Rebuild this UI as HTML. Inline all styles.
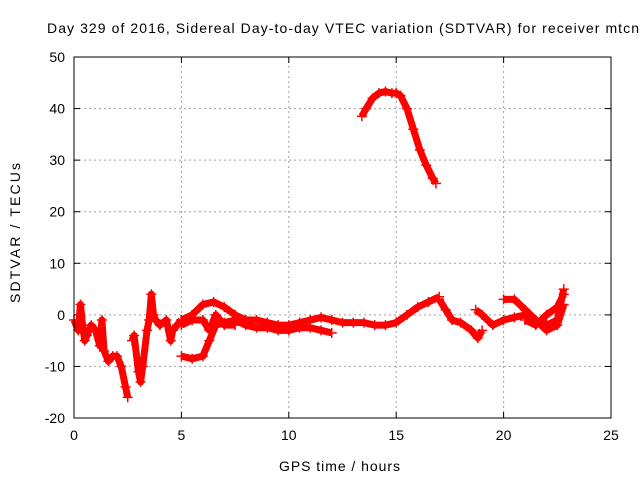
<!DOCTYPE html>
<html><head><meta charset="utf-8"><style>
body{margin:0;background:#fff}
svg{display:block;font-family:"Liberation Sans",sans-serif}
</style></head><body>
<svg id="chart" width="640" height="480">
<rect width="640" height="480" fill="#fff"/>
<text x="47" y="33" font-size="14" textLength="592" lengthAdjust="spacing">Day 329 of 2016, Sidereal Day-to-day VTEC variation (SDTVAR) for receiver mtcn</text>
<text x="279" y="471" font-size="14" textLength="121" lengthAdjust="spacing">GPS time / hours</text>
<text transform="translate(20,303) rotate(-90)" font-size="14" textLength="140" lengthAdjust="spacing">SDTVAR / TECUs</text>
<g id="grid"></g><g id="ticks"></g><g id="series"></g>
<rect x="74" y="57" width="537" height="361" fill="none" stroke="#000" stroke-width="1"/>
</svg>
<script>
const xTicks=[0,5,10,15,20,25];
const yTicks=[-20,-10,0,10,20,30,40,50];
const track1=[[0,-1],[0.2,-3],[0.3,2],[0.4,-2],[0.5,-5],[0.6,-4],[0.8,-2],[1.0,-3],[1.2,-6],[1.3,-1],[1.4,-7],[1.6,-9],[1.8,-8],[2.0,-8],[2.2,-10],[2.4,-14],[2.5,-16]];
const track2=[[2.7,-5],[2.8,-4],[3.0,-11],[3.1,-13],[3.2,-10],[3.4,-3],[3.5,-1],[3.6,4],[3.7,0],[3.8,-1],[4.0,-2],[4.3,-1],[4.5,-5],[4.6,-3],[4.8,-2],[5.0,-1]];
const track3=[[5,-1],[5.5,0],[6,2],[6.5,2.5],[7,1.5],[7.5,0],[8,-1],[8.5,-1],[9,-1.5],[9.5,-2],[10,-2],[10.5,-1.5],[11,-1],[11.5,-0.5],[12,-1],[12.5,-1.5],[13,-1.5],[13.5,-1.5],[14,-2],[14.5,-2],[15,-1.5],[15.5,0],[16,1.5],[16.5,2.5],[17,3.5]];
const track4=[[5.0,-8],[5.5,-8.5],[6,-8],[6.3,-5],[6.6,-2],[7,-1.5],[7.5,-1],[8,-2],[8.5,-2.5],[9,-2.5],[9.5,-3],[10,-3],[10.5,-2.5],[11,-2.5],[11.5,-3],[12,-3.5]];
const track5=[[5,-2],[5.5,-1],[6,-1],[6.3,-3],[6.6,0],[7,-2],[7.5,-2]];
const track6=[[17,3],[17.3,1],[17.6,-1],[18,-1.5],[18.5,-3],[18.8,-4.5],[19,-3]];
const track7=[[18.7,1],[19,0],[19.5,-2],[20,-1],[20.5,-0.5],[21,0],[21.5,-1],[22,-2],[22.5,-1],[22.8,5]];
const track8=[[20,3],[20.5,3],[21,1],[21.5,-1],[22,-3],[22.5,-2],[22.8,2]];
const track9=[[21,-1],[21.5,-2],[22,0],[22.5,1.5],[22.8,4]];
const trackHigh=[[13.4,38.5],[13.6,40],[13.9,42],[14.2,43],[14.5,43.3],[14.8,43],[15,43],[15.2,42.5],[15.5,40],[15.8,36],[16.1,32],[16.4,29],[16.7,26.5],[16.85,25.5]];
const tracks=[track1,track2,track3,track4,track5,track6,track7,track8,track9,trackHigh];

const NS="http://www.w3.org/2000/svg";
const X0=74,X1=611,Y0=418,Y1=57;
const sx=v=>X0+(v-0)/(25-0)*(X1-X0);
const sy=v=>Y0-(v+20)/(70)*(Y0-Y1);
function mk(tag,attrs,parent){const e=document.createElementNS(NS,tag);for(const k in attrs)e.setAttribute(k,attrs[k]);parent.appendChild(e);return e;}
const grid=document.getElementById('grid'),ticks=document.getElementById('ticks'),ser=document.getElementById('series');
xTicks.forEach(t=>{
  const x=sx(t);
  if(t>0&&t<25){const g=mk('line',{x1:x,x2:x,y1:Y0,y2:Y1,stroke:'#a0a0a0','stroke-dasharray':'2,3'},grid);
  
  }
  mk('line',{x1:x,x2:x,y1:Y0,y2:Y0-6,stroke:'#000'},ticks);
  mk('line',{x1:x,x2:x,y1:Y1,y2:Y1+6,stroke:'#000'},ticks);
  const l=mk('text',{x:x,y:Y0+22,'font-size':14,'text-anchor':'middle'},ticks);l.textContent=t;
  
  
});
yTicks.forEach(t=>{
  const y=sy(t);
  if(t>-20&&t<50){const g=mk('line',{x1:X0,x2:X1,y1:y,y2:y,stroke:'#a0a0a0','stroke-dasharray':'2,3'},grid);
  
  }
  mk('line',{x1:X0,x2:X0+6,y1:y,y2:y,stroke:'#000'},ticks);
  mk('line',{x1:X1,x2:X1-6,y1:y,y2:y,stroke:'#000'},ticks);
  const l=mk('text',{x:X0-9,y:y+5,'font-size':14,'text-anchor':'end'},ticks);l.textContent=t;
  
  
});
tracks.forEach((tr,i)=>{
  const g=mk('g',{},ser);
  
  
  mk('polyline',{points:tr.map(p=>sx(p[0])+','+sy(p[1])).join(' '),fill:'none',stroke:'#f00','stroke-width':7,'stroke-linejoin':'round'},g);
  tr.forEach(p=>{
    const x=sx(p[0]),y=sy(p[1]);
    const m=mk('path',{d:`M${x-5},${y}H${x+5}M${x},${y-5}V${y+5}`,stroke:'#f00','stroke-width':1.5},g);
    
    
  });
});
</script>
</body></html>
